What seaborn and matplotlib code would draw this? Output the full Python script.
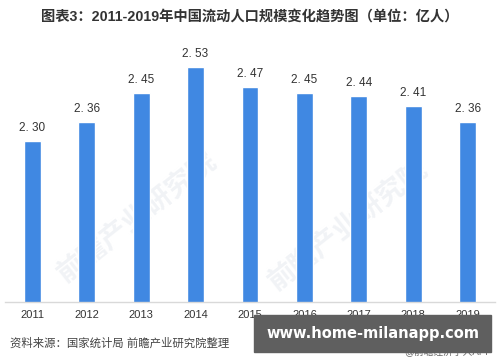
import pandas as pd
import seaborn as sns
import matplotlib.pyplot as plt

# chart data
years = ["2011", "2012", "2013", "2014", "2015", "2016", "2017", "2018", "2019"]
values = [2.30, 2.36, 2.45, 2.53, 2.47, 2.45, 2.44, 2.41, 2.36]

title = "图表3：2011-2019年中国流动人口规模变化趋势图（单位：亿人）"
source = "资料来源：国家统计局 前瞻产业研究院整理"

sns.set_theme(style="white")
plt.rcParams["font.family"] = ["Liberation Sans", "Noto Sans CJK SC", "DejaVu Sans"]

df = pd.DataFrame({"year": years, "value": values})

fig = plt.figure(figsize=(5, 3.62), dpi=100)
ax = fig.add_axes([0.01, 0.166, 0.98, 0.71])

# faint background watermarks
for xw, yw in [(0.27, 0.33), (0.70, 0.30)]:
    ax.text(xw, yw, "前瞻产业研究院", transform=ax.transAxes, rotation=38,
            fontsize=20, fontweight="bold", color="#f1f3f6", ha="center",
            va="center", zorder=0)

sns.barplot(data=df, x="year", y="value", color="#4088e2", width=0.31,
            saturation=1, ax=ax, zorder=2)

for i, v in enumerate(values):
    ax.annotate(f"{v:.2f}".replace(".", ". "), (i, v), xytext=(0, 5),
                textcoords="offset points", ha="center", va="bottom",
                fontsize=8.5, color="#333333")

ax.set_ylim(1.8, 2.6)
ax.set_xlim(-0.5, 8.5)
ax.set_xlabel("")
ax.set_ylabel("")
ax.set_yticks([])
ax.tick_params(axis="x", length=0, labelsize=8, colors="#333333", pad=6)
for side in ["top", "right", "left"]:
    ax.spines[side].set_visible(False)
ax.spines["bottom"].set_color("#d9d9d9")
ax.spines["bottom"].set_linewidth(1)

fig.text(0.5, 0.953, title, ha="center", va="center", fontsize=10.3,
         fontweight="bold", color="#333333")
fig.text(0.02, 0.052, source, ha="left", va="center", fontsize=8.2,
         color="#444444")
fig.text(0.984, 0.028, "@前瞻经济学人APP", ha="right", va="center",
         fontsize=7, color="#666666")

# overlaid site banner
fig.patches.append(plt.Rectangle((0.508, 0.028), 0.474, 0.102,
                                 transform=fig.transFigure,
                                 color="#5f5f5f", zorder=5))
fig.text(0.745, 0.079, "www.home-milanapp.com", ha="center", va="center",
         fontsize=10.5, fontweight="bold", color="white", zorder=6,
         family="DejaVu Sans")

fig.savefig("out.png", dpi=100)
